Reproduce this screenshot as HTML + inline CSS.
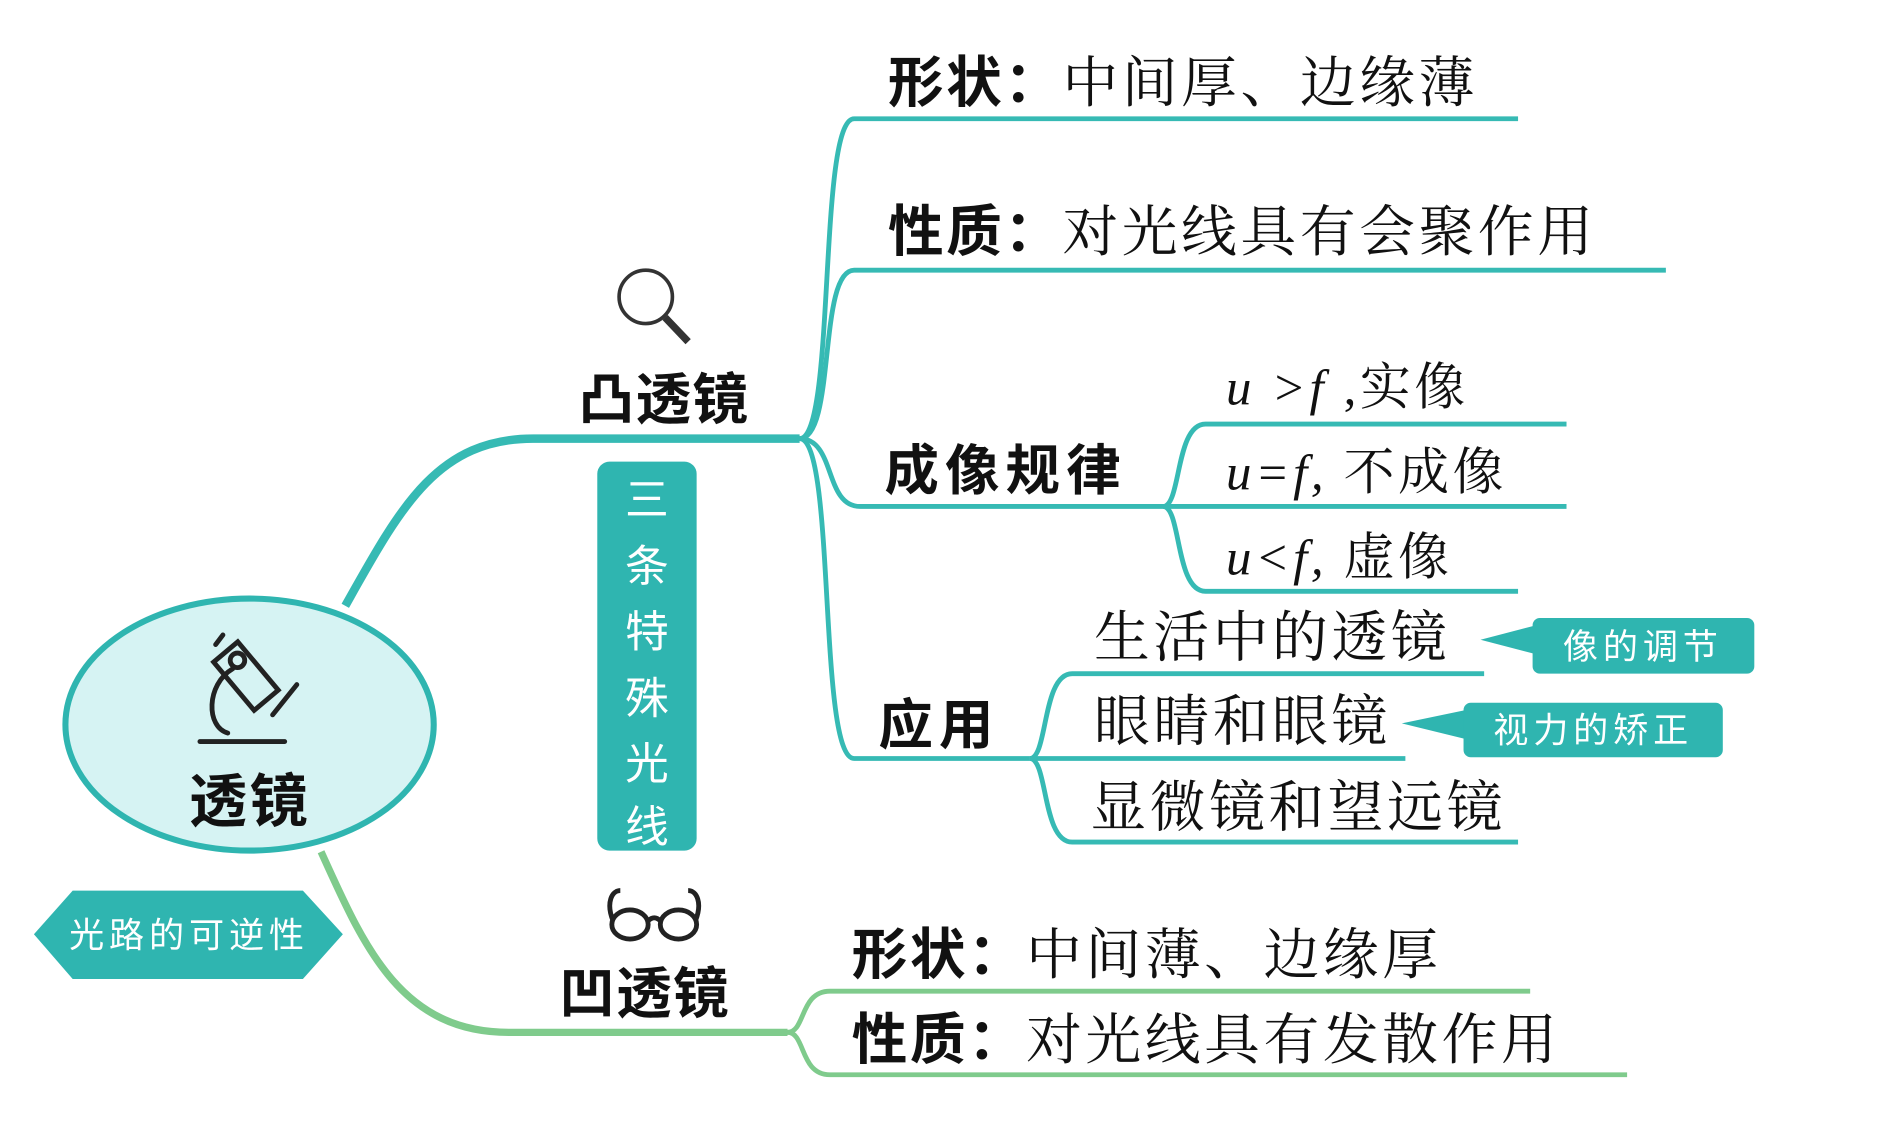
<!DOCTYPE html>
<html><head><meta charset="utf-8"><style>
html,body{margin:0;padding:0;background:#fff;width:1890px;height:1122px;overflow:hidden}
svg{display:block}
.b{font-family:"Liberation Sans","Noto Sans CJK SC",sans-serif;font-weight:bold;fill:#111;letter-spacing:5px}
.n{font-family:"Liberation Serif","Noto Serif CJK SC",serif;fill:#111;letter-spacing:3px}
.i{font-family:"Liberation Serif",serif;font-style:italic}
.w{font-family:"Liberation Sans","Noto Sans CJK SC",sans-serif;fill:#fff;letter-spacing:4px}
</style></head><body>
<svg width="1890" height="1122" viewBox="0 0 1560 926" preserveAspectRatio="none" xmlns="http://www.w3.org/2000/svg">
<g fill="none" stroke="#36bab4" stroke-width="4">
<path d="M285,500 C330,420 360,362 440,362 L660,362" stroke-width="7"/>
<path d="M660,362 C690,362 675,98 705,98 L1253,98"/>
<path d="M660,362 C690,362 675,223 705,223 L1375,223"/>
<path d="M660,362 C690,362 680,418 710,418 L960,418"/>
<path d="M660,362 C690,362 675,626 705,626 L850,626"/>
<path d="M960,418 C975,418 970,350 995,350 L1293,350"/>
<path d="M960,418 L1293,418"/>
<path d="M960,418 C975,418 970,488 995,488 L1253,488"/>
<path d="M850,626 C865,626 860,556 885,556 L1225,556"/>
<path d="M850,626 L1160,626"/>
<path d="M850,626 C865,626 860,695 885,695 L1253,695"/>
</g>
<g fill="none" stroke="#7fcb8c" stroke-width="4">
<path d="M265,703 C300,780 330,852 420,852 L650,852" stroke-width="6"/>
<path d="M650,852 C665,852 660,818 685,818 L1263,818"/>
<path d="M650,852 C665,852 660,887 685,887 L1343,887"/>
</g>
<ellipse cx="206" cy="598" rx="152" ry="104" fill="#d6f3f3" stroke="#2fb5b0" stroke-width="5"/>
<g fill="none" stroke="#222" stroke-width="4" stroke-linecap="round">
<rect x="190" y="532" width="26" height="52" transform="rotate(-40 203 558)"/>
<circle cx="196" cy="545" r="6"/>
<path d="M184,524 L178,532"/>
<path d="M245,565 L225,590"/>
<path d="M192,552 C170,565 170,600 188,605"/>
<path d="M165,612 L235,612"/>
</g>
<text class="b" x="206" y="678" font-size="48" text-anchor="middle" style="letter-spacing:2px">透镜</text>
<g fill="none" stroke="#333" stroke-width="3">
<circle cx="533" cy="245" r="22"/>
<path d="M549,262 L568,282" stroke-width="6"/>
</g>
<text class="b" x="548" y="346" font-size="46" text-anchor="middle" style="letter-spacing:1px">凸透镜</text>
<g fill="none" stroke="#222" stroke-width="4">
<ellipse cx="520" cy="763" rx="15" ry="12"/><ellipse cx="560" cy="763" rx="15" ry="12"/>
<path d="M535,760 Q540,755 545,760"/>
<path d="M506,760 C500,745 505,735 512,735"/><path d="M574,760 C580,745 575,735 568,735"/>
</g>
<text class="b" x="532" y="836" font-size="46" text-anchor="middle" style="letter-spacing:1px">凹透镜</text>
<rect x="493" y="381" width="82" height="321" rx="10" fill="#2fb5b0"/>
<g class="w" font-size="36" text-anchor="middle" style="letter-spacing:0">
<text x="534" y="425">三</text><text x="534" y="480">条</text><text x="534" y="534">特</text>
<text x="534" y="589">殊</text><text x="534" y="643">光</text><text x="534" y="695">线</text></g>
<polygon points="28,771 60,735 250,735 283,771 250,808 60,808" fill="#2fb5b0"/>
<text class="w" x="156" y="782" font-size="29" text-anchor="middle">光路的可逆性</text>
<path d="M1222,528 L1268,516 L1268,540 Z" fill="#2fb5b0"/>
<rect x="1265" y="510" width="183" height="46" rx="6" fill="#2fb5b0"/>
<text class="w" x="1356" y="544" font-size="29" text-anchor="middle">像的调节</text>
<path d="M1157,597 L1210,586 L1210,610 Z" fill="#2fb5b0"/>
<rect x="1208" y="580" width="214" height="45" rx="6" fill="#2fb5b0"/>
<text class="w" x="1315" y="613" font-size="29" text-anchor="middle">视力的矫正</text>
<text x="733" y="84" font-size="46"><tspan class="b" style="letter-spacing:2px">形状：</tspan><tspan class="n">中间厚、边缘薄</tspan></text>
<text x="733" y="207" font-size="46"><tspan class="b" style="letter-spacing:2px">性质：</tspan><tspan class="n">对光线具有会聚作用</tspan></text>
<text class="b" x="730" y="404" font-size="45">成像规律</text>
<text class="n" x="1012" y="334" font-size="42"><tspan class="i">u &gt;f </tspan>,实像</text>
<text class="n" x="1012" y="404" font-size="42"><tspan class="i">u=f,</tspan> 不成像</text>
<text class="n" x="1012" y="474" font-size="42"><tspan class="i">u&lt;f,</tspan> 虚像</text>
<text class="b" x="725" y="614" font-size="45">应用</text>
<text class="n" x="903" y="542" font-size="46">生活中的透镜</text>
<text class="n" x="903" y="611" font-size="46">眼睛和眼镜</text>
<text class="n" x="900" y="682" font-size="46">显微镜和望远镜</text>
<text x="703" y="804" font-size="46"><tspan class="b" style="letter-spacing:2px">形状：</tspan><tspan class="n">中间薄、边缘厚</tspan></text>
<text x="703" y="874" font-size="46"><tspan class="b" style="letter-spacing:2px">性质：</tspan><tspan class="n">对光线具有发散作用</tspan></text>
</svg>
</body></html>
